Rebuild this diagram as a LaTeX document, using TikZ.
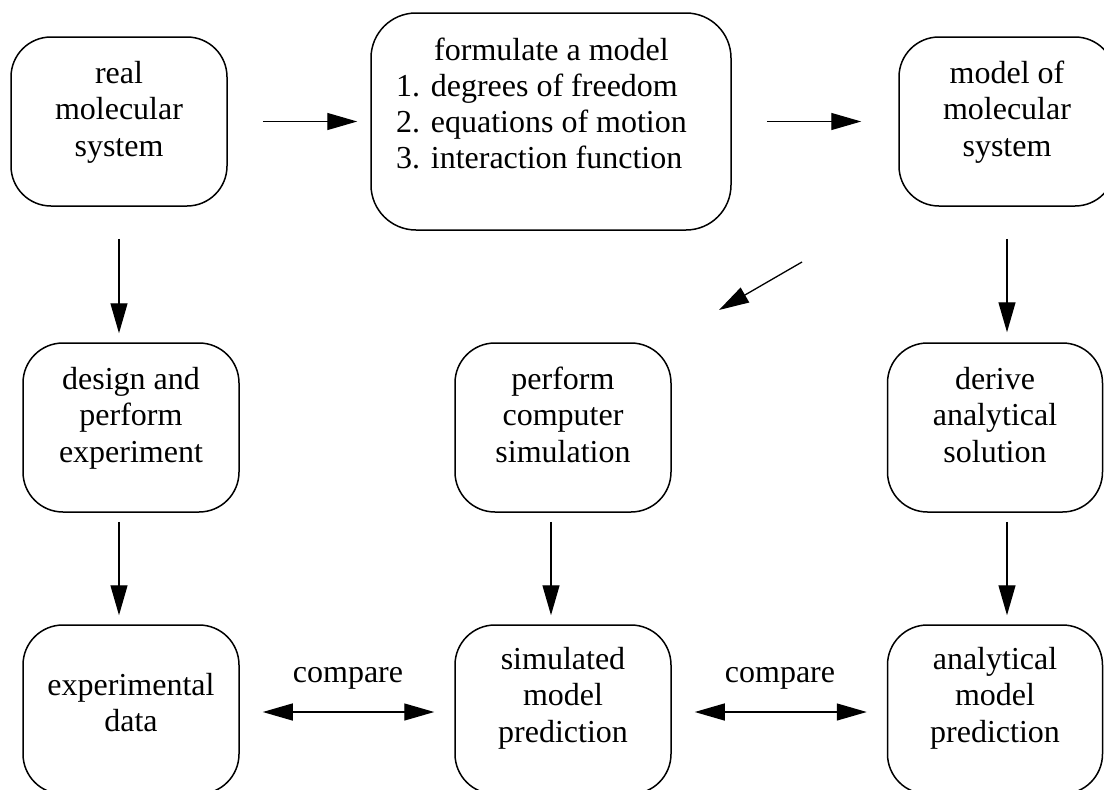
\documentclass[tikz,border=0pt]{standalone}
\usepackage{fontspec}
\setmainfont{Liberation Serif}
\usetikzlibrary{arrows.meta}
\newcommand{\mlines}[1]{\begin{tabular}[t]{@{}c@{}}#1\end{tabular}}
\tikzset{
  box/.style={draw=black, line width=1.5pt, rounded corners=40pt, minimum width=216pt, minimum height=169pt, inner sep=0pt},
  txt/.style={inner sep=0pt, anchor=base, font=\fontsize{32pt}{36.7pt}\selectfont},
  arr/.style={line width=1.3pt, -{Triangle[length=30pt,width=17pt]}},
  darr/.style={line width=1.3pt, {Triangle[length=30pt,width=17pt]}-{Triangle[length=30pt,width=17pt]}}
}
\begin{document}
\begin{tikzpicture}[x=1pt,y=-1pt]
\useasboundingbox[fill=white] (0,0) rectangle (1104,790);
% boxes
\node[box] (real) at (119,121.5) {};
\node[box, minimum width=360pt, minimum height=217pt, rounded corners=45pt] (formulate) at (551,121.5) {};
\node[box] (model) at (1007,121.5) {};
\node[box] (design) at (131,427.5) {};
\node[box] (sim) at (563,427.5) {};
\node[box, minimum width=215pt] (derive) at (995,427.5) {};
\node[box] (exp) at (131,709.5) {};
\node[box] (simp) at (563,709.5) {};
\node[box, minimum width=215pt] (anap) at (995,709.5) {};
% texts
\node[txt] (real-t) at (119,83) {\mlines{real\\molecular\\system}};
\node[txt, anchor=base west, font=\fontsize{32pt}{36.3pt}\selectfont] (formulate-t) at (396,60) {\begin{tabular}[t]{@{}l@{}}\multicolumn{1}{@{}c@{}}{\hspace{20pt}formulate a model}\\1. degrees of freedom\\2. equations of motion\\3. interaction function\end{tabular}};
\node[txt] (model-t) at (1007,83) {\mlines{model of\\molecular\\system}};
\node[txt] (design-t) at (131,389) {\mlines{design and\\perform\\experiment}};
\node[txt] (sim-t) at (563,389) {\mlines{perform\\computer\\simulation}};
\node[txt] (derive-t) at (995,389) {\mlines{derive\\analytical\\solution}};
\node[txt] (exp-t) at (131,695) {\mlines{experimental\\data}};
\node[txt] (simp-t) at (563,669) {\mlines{simulated\\model\\prediction}};
\node[txt] (anap-t) at (995,669) {\mlines{analytical\\model\\prediction}};
\node[txt] (cmp1) at (348,682.5) {compare};
\node[txt] (cmp2) at (780,682.5) {compare};
% connectors
\draw[arr, shorten <=35pt, shorten >=13pt] (real.east) -- (formulate.west);
\draw[arr, shorten <=35pt, shorten >=37pt] (formulate.east) -- (model.west);
\draw[arr, shorten <=32pt, shorten >=9pt] (real.south) -- (real.south |- design.north);
\draw[arr, shorten <=32pt, shorten >=10pt] (model.south) -- (model.south |- derive.north);
\coordinate (d1) at (802,262);
\coordinate (d2) at (719,310);
\draw[arr] (d1) -- (d2);
\draw[arr, shorten <=9pt, shorten >=9pt] (design.south -| real.south) -- (exp.north -| real.south);
\draw[arr, shorten <=9pt, shorten >=9pt] ([xshift=-12pt]sim.south) -- ([xshift=-12pt]simp.north);
\draw[arr, shorten <=9pt, shorten >=9pt] (derive.south -| model.south) -- (anap.north -| model.south);
\draw[darr, shorten <=23pt, shorten >=20pt] ([yshift=-2.5pt]exp.east) -- ([yshift=-2.5pt]simp.west);
\draw[darr, shorten <=23pt, shorten >=20pt] ([yshift=-2.5pt]simp.east) -- ([yshift=-2.5pt]anap.west);
\end{tikzpicture}
\end{document}
